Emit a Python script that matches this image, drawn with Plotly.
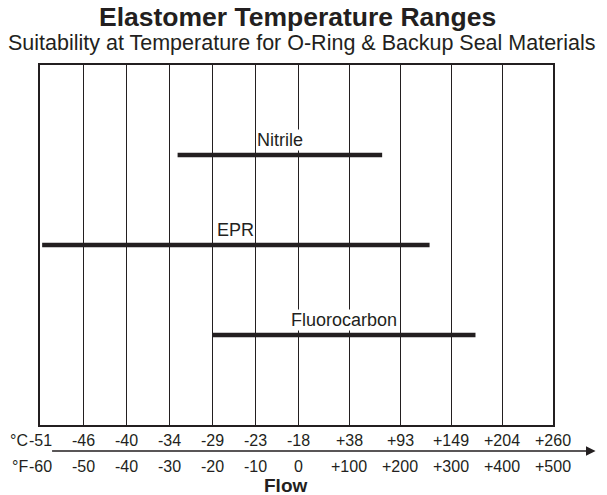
import numpy as np
import plotly.graph_objects as go

# ---- data ----
fahrenheit_ticks = [-60, -50, -40, -30, -20, -10, 0, 100, 200, 300, 400, 500]
celsius_labels = ["-51", "-46", "-40", "-34", "-29", "-23", "-18", "+38", "+93", "+149", "+204", "+260"]
fahrenheit_labels = ["-60", "-50", "-40", "-30", "-20", "-10", "0", "+100", "+200", "+300", "+400", "+500"]
materials = ["Nitrile", "EPR", "Fluorocarbon"]
min_temp_f = [-28, -59.5, -20]
max_temp_f = [165, 258, 348]

# ---- scale: piecewise axis (sub-zero ticks narrower than positive ticks) ----
right_ratio = 51 / 43
tick_pos = [0, 1, 2, 3, 4, 5, 6] + [6 + right_ratio * k for k in range(1, 6)]


def to_pos(f):
    return float(np.interp(f, fahrenheit_ticks, tick_pos))


rows = [3, 2, 1]
FONT = "Liberation Sans, Arial, Helvetica, sans-serif"
INK = "#231f20"

fig = go.Figure()
for name, lo, hi, r in zip(materials, min_temp_f, max_temp_f, rows):
    fig.add_trace(go.Scatter(
        x=[to_pos(lo), to_pos(hi)], y=[r, r], mode="lines",
        line=dict(color=INK, width=4.5), showlegend=False, hoverinfo="skip"))
    fig.add_annotation(
        x=(to_pos(lo) + to_pos(hi)) / 2, y=r, xref="x", yref="y", text=name,
        showarrow=False, yshift=15, xanchor="center", yanchor="middle",
        bgcolor="white", borderpad=0,
        font=dict(family=FONT, size=18, color=INK))

x0, x1 = tick_pos[0], tick_pos[-1]

for p, c, f in zip(tick_pos, celsius_labels, fahrenheit_labels):
    fig.add_annotation(x=p, xref="x", y=-0.0444, yref="paper", text=c, showarrow=False,
                       xanchor="center", yanchor="middle",
                       font=dict(family=FONT, size=16, color=INK))
    fig.add_annotation(x=p, xref="x", y=-0.114, yref="paper", text=f, showarrow=False,
                       xanchor="center", yanchor="middle",
                       font=dict(family=FONT, size=16, color=INK))

fig.add_annotation(x=-0.0205, xref="paper", y=-0.0444, yref="paper", text="°C", showarrow=False,
                   xanchor="right", yanchor="middle", bgcolor="white", borderpad=0,
                   font=dict(family=FONT, size=16, color=INK))
fig.add_annotation(x=-0.0205, xref="paper", y=-0.114, yref="paper", text="°F", showarrow=False,
                   xanchor="right", yanchor="middle", bgcolor="white", borderpad=0,
                   font=dict(family=FONT, size=16, color=INK))

# arrow axis line between the two label rows
fig.add_annotation(x=1.083, xref="paper", y=-0.0722, yref="paper", ax=-545, ay=0,
                   axref="pixel", ayref="pixel", text="", showarrow=True,
                   arrowhead=2, arrowsize=1.2, arrowwidth=1.6, arrowcolor=INK)

fig.add_annotation(x=0.478, xref="paper", y=-0.169, yref="paper", text="<b>Flow</b>", showarrow=False,
                   xanchor="center", yanchor="middle",
                   font=dict(family=FONT, size=19, color=INK))

# titles
fig.add_annotation(x=0.502, xref="paper", y=1.134, yref="paper", text="<b>Elastomer Temperature Ranges</b>",
                   showarrow=False, xanchor="center", yanchor="middle",
                   font=dict(family=FONT, size=26.5, color=INK))
fig.add_annotation(x=0.511, xref="paper", y=1.0625, yref="paper",
                   text="Suitability at Temperature for O-Ring &amp; Backup Seal Materials",
                   showarrow=False, xanchor="center", yanchor="middle",
                   font=dict(family=FONT, size=21.5, color=INK))

fig.update_layout(
    width=607, height=495,
    margin=dict(l=40, r=54, t=65, b=70),
    paper_bgcolor="white", plot_bgcolor="white",
    xaxis=dict(range=[x0, x1], tickvals=tick_pos, showticklabels=False, ticks="",
               showgrid=True, gridcolor=INK, gridwidth=1.2,
               showline=True, mirror=True, linecolor=INK, linewidth=1.6, zeroline=False,
               fixedrange=True),
    yaxis=dict(range=[0, 4], showticklabels=False, showgrid=False, zeroline=False, ticks="",
               showline=True, mirror=True, linecolor=INK, linewidth=1.6, fixedrange=True),
)

fig.write_html("out.html", config={"displayModeBar": False},
               post_script="document.body.style.margin='0px';")
